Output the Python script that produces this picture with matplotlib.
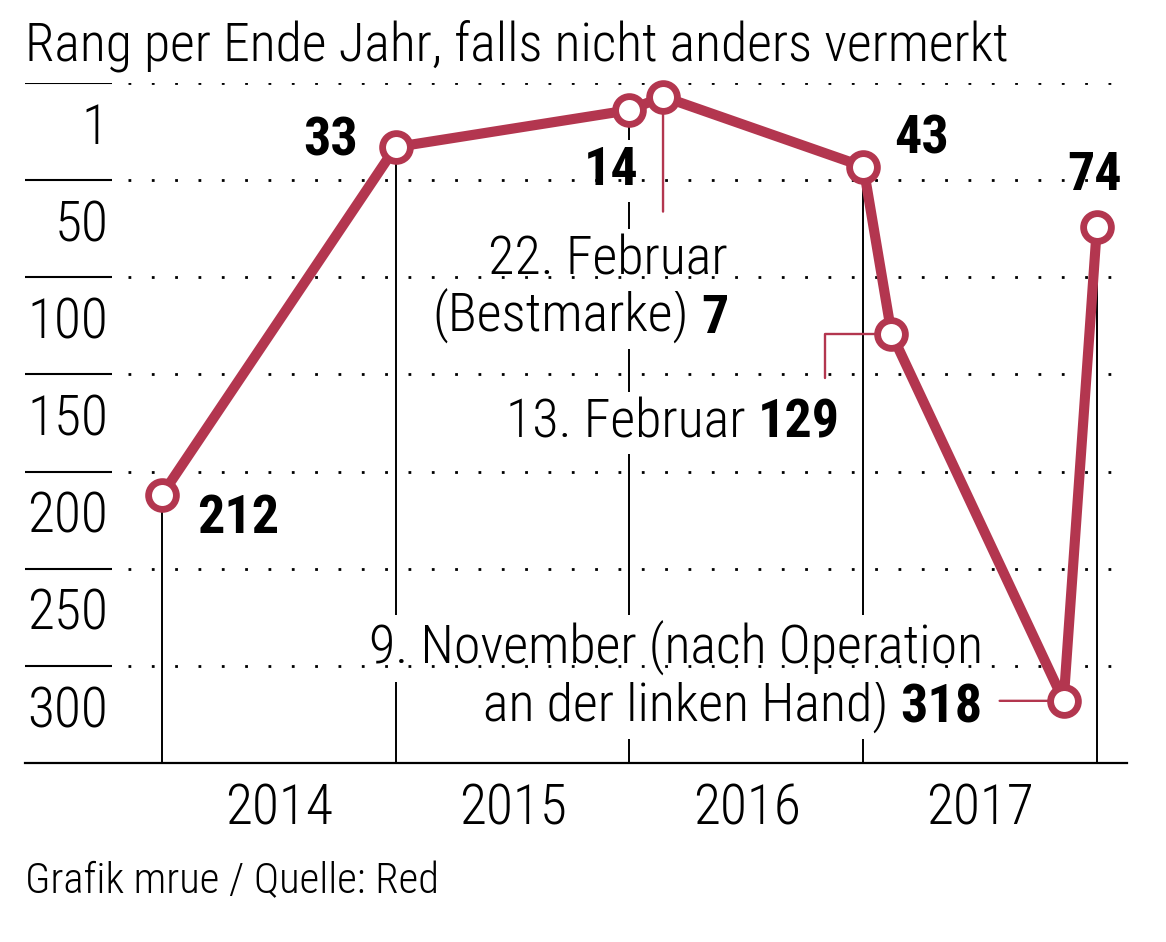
import pandas as pd
import matplotlib
matplotlib.use('Agg')
import matplotlib.pyplot as plt
from matplotlib import font_manager as fm

# Weltranglisten-Position, per Ende Jahr bzw. an markierten Tagen
daten = ['2013-12-31', '2014-12-31', '2015-12-31', '2016-02-22',
         '2016-12-31', '2017-02-13', '2017-11-09', '2017-12-31']
rang = [212, 33, 14, 7, 43, 129, 318, 74]
jahre = ['2014', '2015', '2016', '2017']
y_ticks = [0, 50, 100, 150, 200, 250, 300]
y_labels = ['1', '50', '100', '150', '200', '250', '300']

rot = '#b3364f'


# schmale Schrift suchen, sonst DejaVu
def schmal():
    kandidaten = [('Roboto Condensed', 'normal'), ('Liberation Sans Narrow', 'normal'),
                  ('DejaVu Sans', 'condensed'), ('Noto Sans', 'condensed'),
                  ('Open Sans', 'condensed')]
    for fam, st in kandidaten:
        try:
            p = fm.findfont(fm.FontProperties(family=fam, stretch=st),
                            fallback_to_default=False)
        except Exception:
            continue
        name = p.lower()
        if st == 'normal' or 'condensed' in name or 'narrow' in name:
            return fam, st
    return 'DejaVu Sans', 'normal'


fam, stretch = schmal()
plt.rcParams['font.family'] = [fam, 'DejaVu Sans']
plt.rcParams['font.stretch'] = stretch
plt.rcParams['font.weight'] = 'light'
fs = 39 if stretch != 'normal' or fam != 'DejaVu Sans' else 33

x = pd.to_datetime(daten)
W, H = 1166, 942

fig = plt.figure(figsize=(W / 100, H / 100), dpi=100)
ax = fig.add_axes([25 / W, 1 - 763 / H, 1102 / W, 680 / H])
ax.set_ylim(350, 0)
ax.set_xlim(x[0] - pd.Timedelta(days=214), x[-1] + pd.Timedelta(days=47))

for s in ['left', 'right', 'top']:
    ax.spines[s].set_visible(False)
ax.spines['bottom'].set_linewidth(1.6)

# Jahre in der Mitte
mitte = pd.to_datetime([j + '-07-02' for j in jahre])
ax.set_xticks(mitte, jahre)
ax.tick_params(axis='x', length=0, pad=14, labelsize=fs + 1)
ax.tick_params(axis='y', left=False, labelleft=False)

# Gitter: kurzer Strich links, dann Punkte
trans = ax.get_yaxis_transform()
ax.hlines(y_ticks, 0, 0.079, transform=trans, color='black', lw=1.5, zorder=4)
ax.hlines(y_ticks, 0.0935, 0.995, transform=trans, color='black', lw=2.0,
          linestyles=[(0, (1, 7.4))], capstyle='butt', zorder=4)
for t, lab in zip(y_ticks, y_labels):
    ax.text(0.0755, t + 31.5, lab, transform=trans, ha='right', va='baseline',
            fontsize=fs + 1)

# senkrechte Linien bei Jahresende
ende = [0, 1, 2, 4, 7]
ax.vlines([x[i] for i in ende], [rang[i] for i in ende], 350,
          color='black', lw=1.4, zorder=1)

box = dict(fc='white', ec='none', pad=4)


def label(i, txt, dx, dy, ha='right', bold=True):
    return ax.annotate(txt, (x[i], rang[i]), xytext=(dx, dy),
                       textcoords='offset pixels', ha=ha, va='baseline',
                       fontsize=fs, weight='bold' if bold else 'light',
                       bbox=box, zorder=3.1)


def prefix(t, txt):
    return ax.annotate(txt, (0, 0), xycoords=t, xytext=(-12, 0),
                       textcoords='offset pixels', ha='right', va='bottom',
                       fontsize=fs, weight='light', bbox=box, zorder=3)


label(0, '212', 35, -38, ha='left')
label(1, '33', -38, -8)
label(2, '14', 9, -75)
label(4, '43', 31, 13, ha='left')
label(7, '74', -2, 37, ha='center')

label(3, '22. Februar', 65, -178, bold=False)
prefix(label(3, '7', 65, -236), '(Bestmarke)')
prefix(label(5, '129', -52, -104), '13. Februar')
label(6, '9. November (nach Operation', -81, 37, bold=False)
prefix(label(6, '318', -81, -22), 'an der linken Hand)')

# rote Hinweislinien
line = dict(arrowstyle='-', color=rot, lw=1.7, shrinkA=0, shrinkB=0)
ax.annotate('', (x[3], rang[3]), xytext=(0, -115), textcoords='offset pixels',
            arrowprops=line, zorder=5)
ax.annotate('', (x[5], rang[5]), xytext=(-66, -44), textcoords='offset pixels',
            arrowprops=dict(line, connectionstyle='angle,angleA=90,angleB=0,rad=0'),
            zorder=5)
ax.annotate('', (x[6], rang[6]), xytext=(-64, 0), textcoords='offset pixels',
            arrowprops=line, zorder=5)

ax.plot(x, rang, color=rot, lw=7.3, zorder=6, clip_on=False,
        solid_joinstyle='round')
ax.plot(x, rang, 'o', ms=20, mfc='white', mec=rot, mew=4.9, zorder=7,
        clip_on=False)

fig.text(25 / W, 1 - 60 / H, 'Rang per Ende Jahr, falls nicht anders vermerkt',
         fontsize=fs - 0.3, va='baseline')
fig.text(25 / W, 1 - 893 / H, 'Grafik mrue / Quelle: Red', fontsize=fs * 0.79,
         va='baseline')

fig.savefig('out.png', dpi=100)
